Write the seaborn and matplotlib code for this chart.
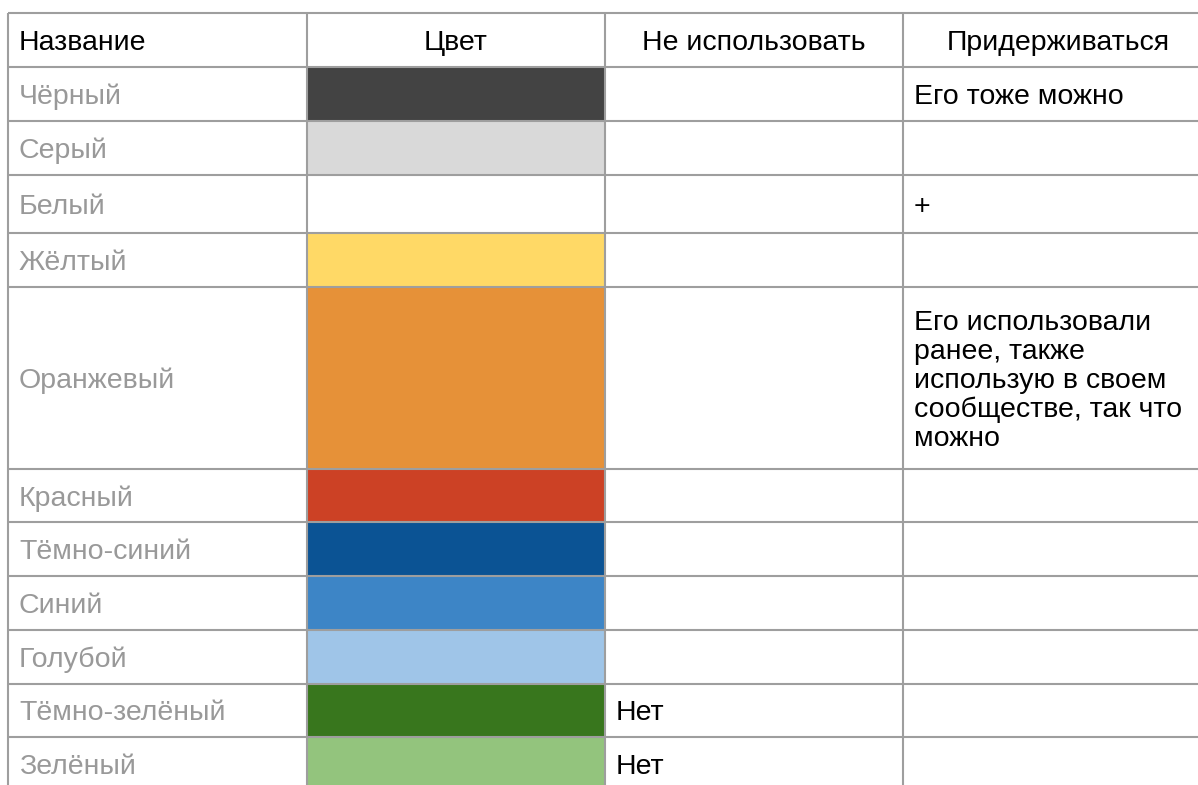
import matplotlib
matplotlib.use("Agg")
import matplotlib.pyplot as plt
import seaborn as sns

# table content
headers = ["Название", "Цвет", "Не использовать", "Придерживаться"]
names = ["Чёрный", "Серый", "Белый", "Жёлтый", "Оранжевый", "Красный",
         "Тёмно-синий", "Синий", "Голубой", "Тёмно-зелёный", "Зелёный"]
swatches = ["#434343", "#d9d9d9", "#ffffff", "#ffd966", "#e69138", "#cc4125",
            "#0b5394", "#3d85c6", "#9fc5e8", "#38761d", "#93c47d"]
avoid = ["", "", "", "", "", "", "", "", "", "Нет", "Нет"]
keep = ["Его тоже можно", "", "+", "",
        "Его использовали\nранее, также\nиспользую в своем\nсообществе, так что\nможно",
        "", "", "", "", "", ""]

# layout (pixels)
top = 13
header_h = 54
row_h = [54, 54, 58, 54, 182, 53, 54, 54, 54, 53, 54]
col_x = [8, 307, 605, 903, 1213]
pad = 11
dy = 3  # text sits a little below the cell centre
line_c = "#9e9e9e"

sns.set_theme(style="white")
plt.rcParams["font.family"] = ["Liberation Sans", "DejaVu Sans"]

fig = plt.figure(figsize=(11.98, 7.85), dpi=100)
ax = fig.add_axes([0, 0, 1, 1])
ax.set_xlim(0, 1198)
ax.set_ylim(785, 0)
ax.axis("off")

edges = [top, top + header_h]
for h in row_h:
    edges.append(edges[-1] + h)
centers = [(edges[i + 1] + edges[i + 2]) / 2 for i in range(len(names))]

# colour swatches
ax.barh(centers, col_x[2] - col_x[1], height=row_h, left=col_x[1],
        color=swatches, edgecolor="none", zorder=1)

# grid
ax.hlines(edges, col_x[0], 1198, color=line_c, lw=1.5, zorder=2)
ax.vlines(col_x[:4], top, edges[-1], color=line_c, lw=1.5, zorder=2)

fs = 20.5
hy = top + header_h / 2 + dy
ax.text(col_x[0] + pad, hy, headers[0], fontsize=fs, va="center", ha="left", color="black")
for j in range(1, 4):
    ax.text((col_x[j] + col_x[j + 1]) / 2, hy, headers[j], fontsize=fs,
            va="center", ha="center", color="black")

for i, cy in enumerate(centers):
    cy = cy + dy
    ax.text(col_x[0] + pad, cy, names[i], fontsize=fs, va="center", color="#999999")
    if avoid[i]:
        ax.text(col_x[2] + pad, cy, avoid[i], fontsize=fs, va="center", color="black")
    if keep[i]:
        ax.text(col_x[3] + pad, cy, keep[i], fontsize=fs, va="center", color="black",
                linespacing=1.15)

fig.savefig("out.png", dpi=100)
